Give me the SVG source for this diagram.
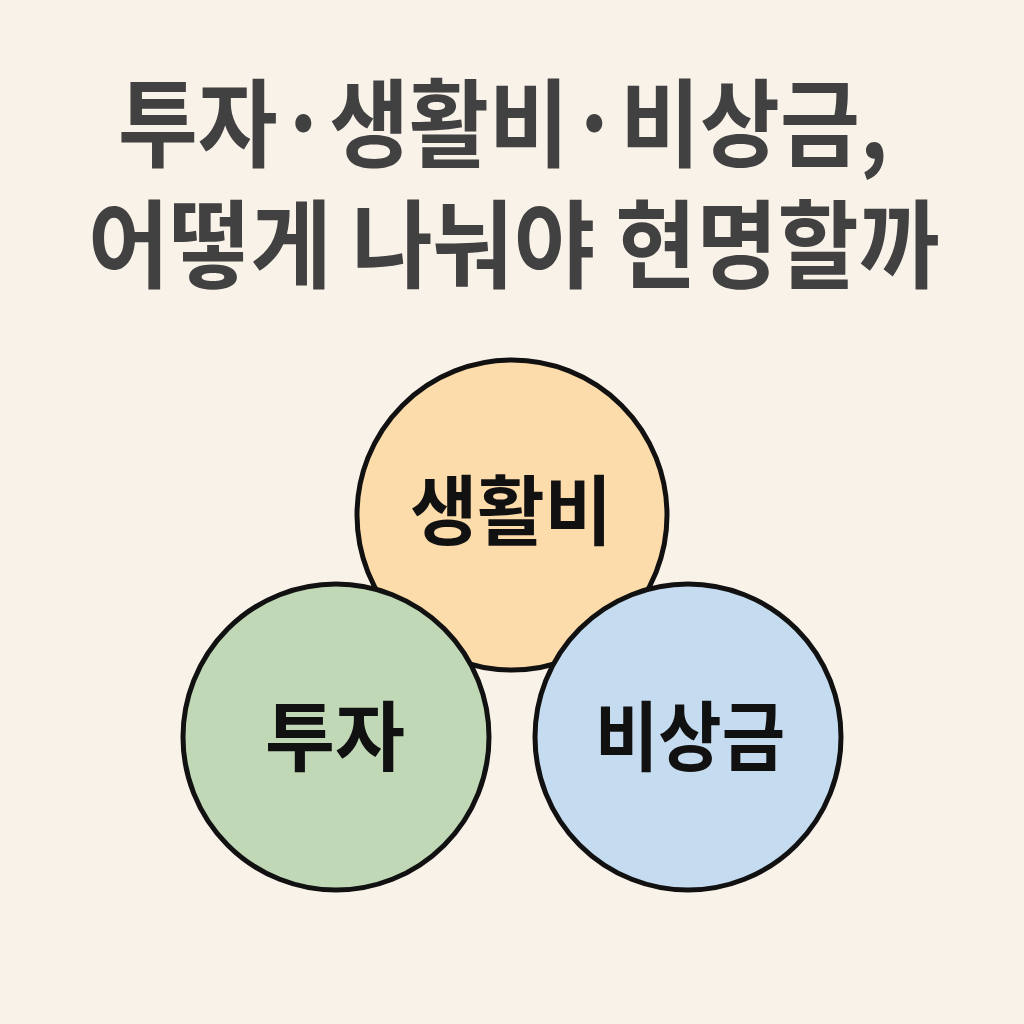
<svg xmlns="http://www.w3.org/2000/svg" width="1024" height="1024" viewBox="0 0 1024 1024">
<style>
.title{font-family:"Noto Sans CJK KR","Noto Sans",sans-serif;font-weight:700;font-size:96px;fill:#414141}
.circle{stroke:#111;stroke-width:5}
.label{font-family:"Noto Sans CJK KR","Noto Sans",sans-serif;font-weight:700;font-size:76px;fill:#111;text-anchor:middle}
</style>
<rect width="1024" height="1024" fill="#f9f2e9"/>
<g id="title">
<text class="title" x="118" y="159" textLength="770" lengthAdjust="spacingAndGlyphs">투자·생활비·비상금,</text>
<text class="title" x="88" y="280" textLength="852" lengthAdjust="spacingAndGlyphs">어떻게 나눠야 현명할까</text>
</g>
<g id="connectors"></g>
<g id="node-living">
<circle class="circle" cx="512" cy="515" r="155" fill="#fddcab"/>
<text class="label" x="511" y="539" textLength="202" lengthAdjust="spacingAndGlyphs">생활비</text>
</g>
<g id="node-invest">
<circle class="circle" cx="336" cy="737" r="153" fill="#c0d8b5"/>
<text class="label" x="335" y="765" textLength="140" lengthAdjust="spacingAndGlyphs">투자</text>
</g>
<g id="node-emergency">
<circle class="circle" cx="688" cy="737" r="153" fill="#c5dcf0"/>
<text class="label" x="690" y="765" textLength="190" lengthAdjust="spacingAndGlyphs">비상금</text>
</g>
</svg>
